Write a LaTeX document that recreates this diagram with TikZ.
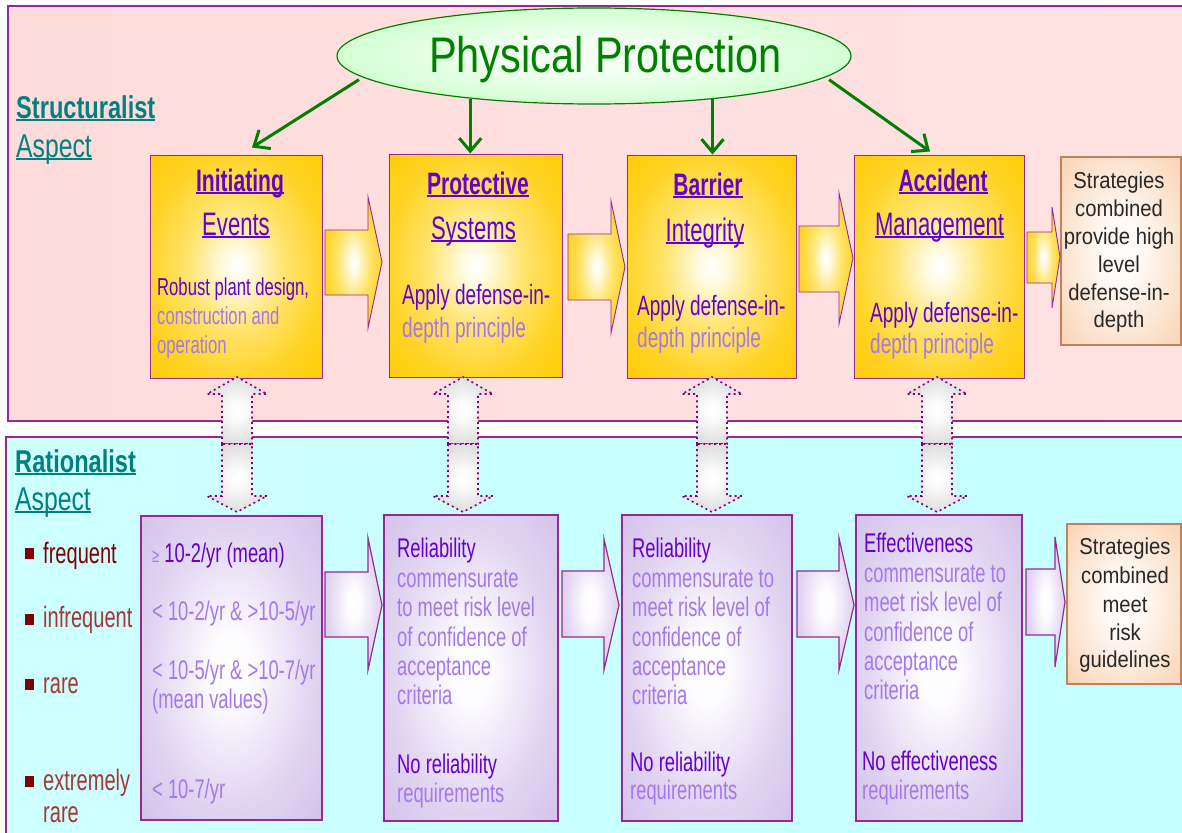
\documentclass[tikz,border=0pt]{standalone}
\usepackage{fontspec}
\setmainfont{Liberation Sans}
\newfontfamily\narrowsf[FakeStretch=0.68]{Liberation Sans}
\newfontfamily\labelsf[FakeStretch=0.75]{Liberation Sans}
\newfontfamily\titlesf[FakeStretch=0.83]{Liberation Sans}
\newfontfamily\stratsf[FakeStretch=0.88]{Liberation Sans}
\usetikzlibrary{shapes.geometric,arrows.meta}

% palette
\definecolor{frame}{RGB}{150,40,150}
\definecolor{dotline}{RGB}{128,0,128}
\definecolor{ink}{RGB}{102,0,204}
\definecolor{inklight}{RGB}{165,120,235}
\definecolor{aspect}{RGB}{0,128,128}
\definecolor{gold}{RGB}{255,200,0}
\definecolor{gold1}{RGB}{255,250,225}
\definecolor{gold2}{RGB}{255,228,110}
\definecolor{gold3}{RGB}{255,212,40}
\definecolor{gold4}{RGB}{255,204,8}
\definecolor{lav}{RGB}{208,190,232}
\definecolor{lavmid}{RGB}{226,214,242}
\definecolor{peach}{RGB}{250,205,168}
\definecolor{peachline}{RGB}{190,130,95}
\definecolor{greenline}{RGB}{0,128,0}
\definecolor{mintfill}{RGB}{178,255,178}
\definecolor{maroon}{RGB}{128,0,0}
\definecolor{redlight}{RGB}{165,55,55}
\definecolor{greyfill}{RGB}{198,198,198}
\definecolor{strattext}{RGB}{40,40,40}

% glowing fills: light centre, saturated rim
\pgfdeclareradialshading{goldglow}{\pgfpoint{0bp}{0bp}}{color(0bp)=(white); color(4bp)=(gold1); color(14bp)=(gold2); color(25bp)=(gold3); color(35bp)=(gold4); color(72bp)=(gold)}
\pgfdeclareradialshading{lavglow}{\pgfpoint{0bp}{0bp}}{color(0bp)=(white); color(6bp)=(white!94!lav); color(22bp)=(lavmid); color(38bp)=(lav); color(72bp)=(lav)}
\pgfdeclareradialshading{greyglow}{\pgfpoint{0bp}{0bp}}{color(0bp)=(white); color(8bp)=(white!90!greyfill); color(40bp)=(greyfill); color(72bp)=(greyfill)}
\pgfdeclareradialshading{peachglow}{\pgfpoint{0bp}{0bp}}{color(0bp)=(white); color(8bp)=(white!90!peach); color(40bp)=(peach); color(72bp)=(peach)}
\pgfdeclareradialshading{mintglow}{\pgfpoint{0bp}{0bp}}{color(0bp)=(white!88!mintfill); color(10bp)=(white!80!mintfill); color(42bp)=(mintfill); color(72bp)=(mintfill)}

% font sizes
\newcommand\Fhead{\narrowsf\bfseries\fontsize{31}{33}\selectfont}
\newcommand\Fsub{\narrowsf\fontsize{32.5}{34}\selectfont}
\newcommand\Ftop{\narrowsf\fontsize{28}{30}\selectfont}
\newcommand\Fsmall{\narrowsf\fontsize{24.5}{27}\selectfont}
\newcommand\Fbot{\narrowsf\fontsize{27}{29}\selectfont}
\newcommand\Fside{\narrowsf\fontsize{29.5}{31}\selectfont}
\newcommand\Fbig{\labelsf\bfseries\fontsize{31.5}{33}\selectfont}
\newcommand\Faspect{\labelsf\fontsize{33}{35}\selectfont}
\newcommand\Fstrat{\stratsf\fontsize{23}{28}\selectfont}

% underline drawn in the current colour
\newcommand\myul[1]{\setbox0=\hbox{#1}\rlap{\rule[-0.09em]{\wd0}{0.05em}}\box0}

% right-pointing block arrow: style, left, body top, body bottom, head base, head top, head bottom, tip x, tip y
\newcommand\blockarrow[9]{\path[#1] (#2,#3) -- (#5,#3) -- (#5,#6) -- (#8,#9) -- (#5,#7) -- (#5,#4) -- (#2,#4) -- cycle;}

% two-way link between the upper and the lower box of one column
\newcommand\linkpair[1]{%
  \path[linkarrow] (#1-15,444) -- (#1-15,394) -- (#1-30,394) -- (#1,377) -- (#1+30,394) -- (#1+15,394) -- (#1+15,444) -- cycle;
  \path[linkarrow] (#1-15,444) -- (#1-15,496) -- (#1-30,496) -- (#1,512) -- (#1+30,496) -- (#1+15,496) -- (#1+15,444) -- cycle;}

\tikzset{
  panel/.style={draw=frame, line width=1.4pt},
  goldbox/.style={rectangle, draw=frame, line width=1pt, shade, shading=goldglow, inner sep=0pt},
  lavbox/.style={rectangle, draw=frame, line width=1.4pt, shade, shading=lavglow, inner sep=0pt},
  stratbox/.style={rectangle, draw=peachline, line width=1.2pt, shade, shading=peachglow, inner sep=0pt},
  goldarrow/.style={draw=frame, line width=0.9pt, shade, shading=goldglow},
  lavarrow/.style={draw=frame, line width=1.2pt, shade, shading=lavglow},
  linkarrow/.style={draw=dotline, line width=1.6pt, dash pattern=on 2pt off 3.2pt, shade, shading=greyglow},
  pointer/.style={draw=greenline, line width=3pt, -{Straight Barb[length=13pt,width=22pt]}},
  txt/.style={inner sep=0pt, anchor=base west},
  ctxt/.style={inner sep=0pt, anchor=base},
  bullet/.style={fill=maroon, minimum width=9pt, minimum height=11pt, inner sep=0pt},
}

\begin{document}
\begin{tikzpicture}[x=1pt, y=-1pt]
\useasboundingbox (0,0) rectangle (1182,832);
\clip (0,0) rectangle (1182,832);
\fill[white] (0,0) rectangle (1182,832);

% the two aspect panels
\path[panel, left color={rgb,255:red,255;green,220;blue,220}, middle color={rgb,255:red,255;green,246;blue,246}, right color={rgb,255:red,255;green,226;blue,226}] (8,6) rectangle (1200,421);
\path[panel, left color={rgb,255:red,206;green,255;blue,255}, middle color={rgb,255:red,236;green,255;blue,255}, right color={rgb,255:red,196;green,255;blue,255}] (6,437) rectangle (1200,845);

% panel captions
\node[txt, text=aspect] (st1) at (16,118) {\Fbig\myul{Structuralist}};
\node[txt, text=aspect] (st2) at (16,157) {\Faspect\myul{Aspect}};
\node[txt, text=aspect] (ra1) at (15,472) {\Fbig\myul{Rationalist}};
\node[txt, text=aspect] (ra2) at (15,510) {\Faspect\myul{Aspect}};

% central ellipse
\node[ellipse, draw=greenline, line width=1.2pt, shade, shading=mintglow, minimum width=514pt, minimum height=96pt, inner sep=0pt] (pp) at (594,56) {};
\node[ctxt, text=greenline] (ppt) at (605.5,73) {\titlesf\fontsize{50}{50}\selectfont Physical Protection};

% structuralist boxes
\node[goldbox, minimum width=172pt, minimum height=223pt] (b1) at (236,266.5) {};
\node[goldbox, minimum width=173pt, minimum height=223pt] (b2) at (475.5,265.5) {};
\node[goldbox, minimum width=169pt, minimum height=223pt] (b3) at (711.5,266.5) {};
\node[goldbox, minimum width=170pt, minimum height=223pt] (b4) at (939,266.5) {};
\node[stratbox, minimum width=120pt, minimum height=188pt] (s1) at (1121,251) {};

% rationalist boxes
\node[lavbox, minimum width=181pt, minimum height=304pt] (r1) at (231.5,668) {};
\node[lavbox, minimum width=174pt, minimum height=306pt] (r2) at (471,668) {};
\node[lavbox, minimum width=170pt, minimum height=306pt] (r3) at (707,668) {};
\node[lavbox, minimum width=166pt, minimum height=306pt] (r4) at (939,668) {};
\node[stratbox, minimum width=114pt, minimum height=160pt] (s2) at (1124,604) {};

% green pointers from the ellipse
\draw[pointer] ([xshift=-10pt]pp.186) -- ([xshift=16pt,yshift=7pt]b1.north);
\draw[pointer] (pp.199) -- (pp.199 |- b2.north);
\draw[pointer] (pp.340) -- (pp.340 |- b3.north);
\draw[pointer] ([xshift=10pt]pp.354) -- ([xshift=-9pt,yshift=3pt]b4.north);

% block arrows between the boxes
\blockarrow{goldarrow}{325}{230}{295}{368}{197}{328}{382}{262}
\blockarrow{goldarrow}{568}{234}{300}{611}{201}{333}{625}{267}
\blockarrow{goldarrow}{799}{226}{292}{839}{193}{324}{853}{258}
\blockarrow{goldarrow}{1027}{232}{283}{1052}{207}{308}{1060}{257}
\blockarrow{lavarrow}{325}{572}{637}{368}{538}{670}{382}{605}
\blockarrow{lavarrow}{562}{571}{637}{604}{539}{670}{619}{605}
\blockarrow{lavarrow}{797}{571}{637}{839}{538}{670}{854}{605}
\blockarrow{lavarrow}{1026}{569}{635}{1055}{537}{667}{1065}{602}

% links between the two aspects
\linkpair{237}
\linkpair{463}
\linkpair{712}
\linkpair{937}

% texts of the structuralist boxes
\node[ctxt, text=ink] (b1h) at (240,191) {\Fhead\myul{Initiating}};
\node[ctxt, text=ink] (b1s) at (236,235) {\Fsub\myul{Events}};
\node[txt, text=ink] (b1a) at (157,295) {\Fsmall Robust plant design,};
\node[txt, text=inklight] (b1b) at (157,324) {\Fsmall construction and};
\node[txt, text=inklight] (b1c) at (157,353) {\Fsmall operation};

\node[ctxt, text=ink] (b2h) at (478,194) {\Fhead\myul{Protective}};
\node[ctxt, text=ink] (b2s) at (473.5,239) {\Fsub\myul{Systems}};
\node[txt, text=ink] (b2a) at (402,304) {\Ftop Apply defense-in-};
\node[txt, text=inklight] (b2b) at (402,337) {\Ftop depth principle};

\node[ctxt, text=ink] (b3h) at (708,195) {\Fhead\myul{Barrier}};
\node[ctxt, text=ink] (b3s) at (705,241) {\Fsub\myul{Integrity}};
\node[txt, text=ink] (b3a) at (637,315) {\Ftop Apply defense-in-};
\node[txt, text=inklight] (b3b) at (637,347) {\Ftop depth principle};

\node[ctxt, text=ink] (b4h) at (943,191) {\Fhead\myul{Accident}};
\node[ctxt, text=ink] (b4s) at (939.5,235) {\Fsub\myul{Management}};
\node[txt, text=ink] (b4a) at (870,322) {\Ftop Apply defense-in-};
\node[txt, text=inklight] (b4b) at (870,353) {\Ftop depth principle};

\node[ctxt, text=strattext] (s1a) at (1119,188) {\Fstrat Strategies};
\node[ctxt, text=strattext] (s1b) at (1119,216) {\Fstrat combined};
\node[ctxt, text=strattext] (s1c) at (1119,244) {\Fstrat provide high};
\node[ctxt, text=strattext] (s1d) at (1119,272) {\Fstrat level};
\node[ctxt, text=strattext] (s1e) at (1119,300) {\Fstrat defense-in-};
\node[ctxt, text=strattext] (s1f) at (1119,327) {\Fstrat depth};

% frequency classes
\node[bullet] (q1) at (29.5,553.5) {};
\node[bullet] (q2) at (29.5,619) {};
\node[bullet] (q3) at (29.5,684.5) {};
\node[bullet] (q4) at (29.5,781) {};
\node[txt, text=maroon] (f1) at (43,563) {\Fside frequent};
\node[txt, text=redlight] (f2) at (43,627) {\Fside infrequent};
\node[txt, text=redlight] (f3) at (43,693) {\Fside rare};
\node[txt, text=redlight] (f4) at (43,790) {\Fside extremely};
\node[txt, text=redlight] (f5) at (43,822) {\Fside rare};

% texts of the rationalist boxes
\node[txt] (r1a) at (152,562) {\Fbot{\color{inklight}\fontsize{19}{20}\selectfont ≥} \color{ink}10-2/yr (mean)};
\node[txt, text=inklight] (r1b) at (152,620) {\Fbot < 10-2/yr \& >10-5/yr};
\node[txt, text=inklight] (r1c) at (152,679) {\Fbot < 10-5/yr \& >10-7/yr};
\node[txt, text=inklight] (r1d) at (152,708) {\Fbot (mean values)};
\node[txt, text=inklight] (r1e) at (152,798) {\Fbot < 10-7/yr};

\node[txt, text=ink] (r2a) at (397,557) {\Fbot Reliability};
\node[txt, text=inklight] (r2b) at (397,587) {\Fbot commensurate};
\node[txt, text=inklight] (r2c) at (397,616) {\Fbot to meet risk level};
\node[txt, text=inklight] (r2d) at (397,646) {\Fbot of confidence of};
\node[txt, text=inklight] (r2e) at (397,675) {\Fbot acceptance};
\node[txt, text=inklight] (r2f) at (397,704) {\Fbot criteria};
\node[txt, text=ink] (r2g) at (397,773) {\Fbot No reliability};
\node[txt, text=inklight] (r2h) at (397,802) {\Fbot requirements};

\node[txt, text=ink] (r3a) at (632,557) {\Fbot Reliability};
\node[txt, text=inklight] (r3b) at (632,587) {\Fbot commensurate to};
\node[txt, text=inklight] (r3c) at (632,616) {\Fbot meet risk level of};
\node[txt, text=inklight] (r3d) at (632,646) {\Fbot confidence of};
\node[txt, text=inklight] (r3e) at (632,675) {\Fbot acceptance};
\node[txt, text=inklight] (r3f) at (632,704) {\Fbot criteria};
\node[txt, text=ink] (r3g) at (630,771) {\Fbot No reliability};
\node[txt, text=inklight] (r3h) at (630,799) {\Fbot requirements};

\node[txt, text=ink] (r4a) at (864,552) {\Fbot Effectiveness};
\node[txt, text=inklight] (r4b) at (864,582) {\Fbot commensurate to};
\node[txt, text=inklight] (r4c) at (864,611) {\Fbot meet risk level of};
\node[txt, text=inklight] (r4d) at (864,641) {\Fbot confidence of};
\node[txt, text=inklight] (r4e) at (864,670) {\Fbot acceptance};
\node[txt, text=inklight] (r4f) at (864,699) {\Fbot criteria};
\node[txt, text=ink] (r4g) at (862,770) {\Fbot No effectiveness};
\node[txt, text=inklight] (r4h) at (862,799) {\Fbot requirements};

\node[ctxt, text=strattext] (s2a) at (1125,554) {\Fstrat Strategies};
\node[ctxt, text=strattext] (s2b) at (1125,583) {\Fstrat combined};
\node[ctxt, text=strattext] (s2c) at (1125,612) {\Fstrat meet};
\node[ctxt, text=strattext] (s2d) at (1125,640) {\Fstrat risk};
\node[ctxt, text=strattext] (s2e) at (1125,667) {\Fstrat guidelines};
\end{tikzpicture}
\end{document}
